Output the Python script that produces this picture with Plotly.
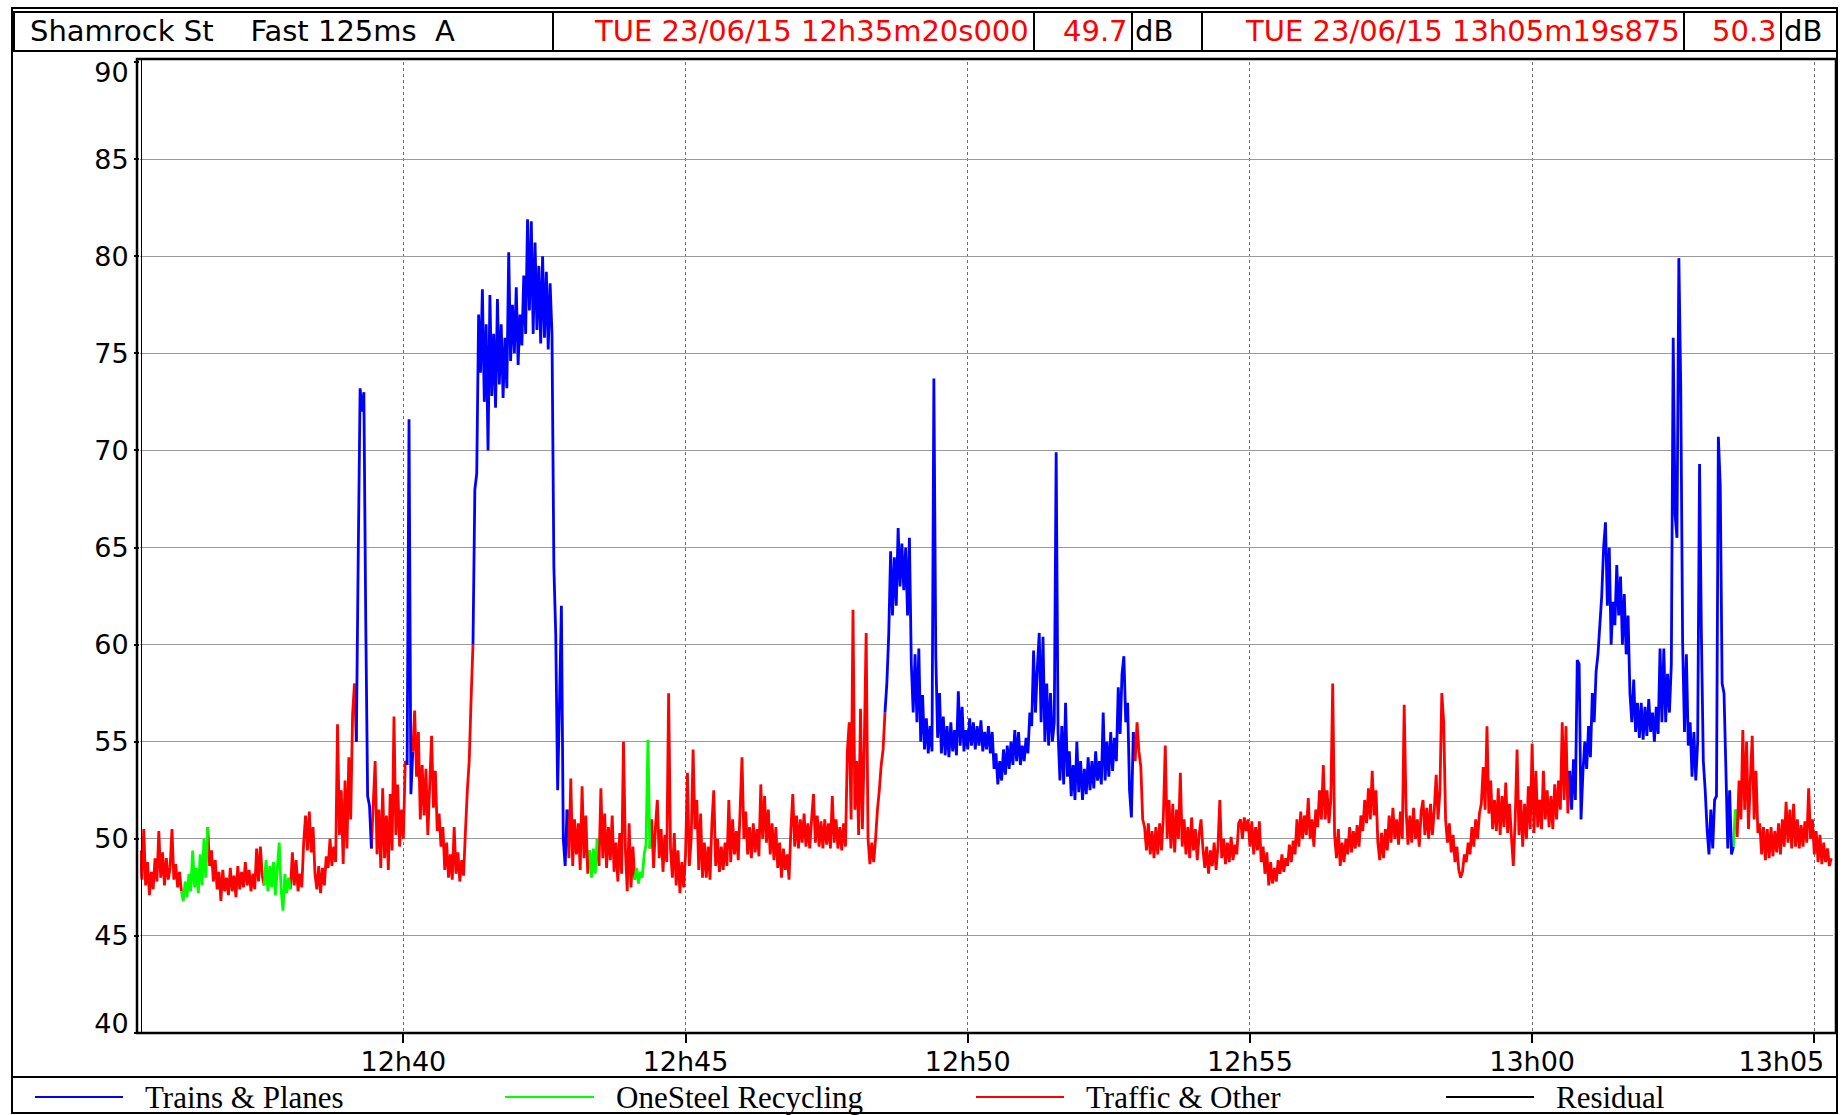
import datetime as dt
import plotly.graph_objects as go

# ---------------- data ----------------
START_TIME = "2015-06-23 12:35:20"
END_TIME = "2015-06-23 13:05:19.875"
SAMPLE_STEP_S = 2

# Fast 125 ms A-weighted level, one reading every 2 s, dB
LEVEL_DB = [
    49.4, 47.9, 50.5, 47.6, 48.8, 47.1, 48.3, 47.4, 49.0, 47.8, 50.4, 48.0, 49.3, 47.6, 49.0, 47.9, 48.5, 50.5, 47.9, 48.7, 47.5, 48.3, 47.3, 46.8, 47.8, 47.0, 48.2, 47.3, 49.4, 47.5,
    48.5, 47.2, 49.2, 47.6, 50.0, 48.0, 50.6, 48.6, 49.4, 47.8, 48.9, 47.4, 48.3, 46.8, 48.4, 47.3, 48.0, 47.1, 48.5, 47.3, 48.1, 47.0, 48.6, 47.4, 48.3, 47.5, 48.8, 47.6, 48.4, 47.3,
    48.2, 47.4, 49.5, 47.8, 49.6, 48.1, 47.6, 48.9, 47.3, 48.6, 47.5, 48.8, 47.1, 48.5, 49.8, 47.4, 46.3, 48.2, 47.2, 48.0, 47.4, 49.3, 47.6, 48.9, 47.3, 48.2, 47.5, 49.8, 51.2, 49.4,
    51.4, 49.3, 50.6, 48.2, 47.4, 48.6, 47.2, 48.5, 47.6, 49.1, 48.5, 50.0, 48.6, 49.6, 48.8, 55.9, 50.2, 52.5, 48.7, 53.0, 49.5, 54.2, 51.0, 56.4, 58.0, 55.0, 64.5, 73.2, 72.0, 73.0,
    61.2, 52.2, 51.7, 49.5, 51.8, 54.0, 49.2, 51.5, 48.5, 52.6, 49.0, 51.2, 48.4, 52.3, 49.4, 56.3, 50.2, 52.8, 49.6, 51.5, 50.0, 54.0, 53.8, 71.6, 52.3, 54.5, 56.6, 53.2, 55.5, 51.0,
    53.8, 51.2, 53.6, 50.2, 52.8, 55.3, 51.6, 53.5, 50.4, 51.3, 49.6, 50.6, 48.4, 49.8, 48.0, 49.2, 47.9, 50.6, 48.2, 49.3, 47.8, 48.9, 48.1, 50.4, 52.5, 54.0, 57.2, 60.0, 68.0, 68.8,
    77.0, 74.0, 78.3, 72.5, 76.5, 70.0, 78.0, 72.8, 76.0, 72.2, 77.8, 73.4, 76.5, 72.7, 75.8, 73.2, 80.2, 74.6, 77.5, 75.0, 78.4, 74.4, 77.0, 75.4, 79.0, 76.0, 81.9, 77.2, 81.8, 76.0,
    80.7, 76.2, 79.5, 75.5, 80.0, 75.8, 79.2, 75.2, 78.6, 76.0, 64.0, 60.5, 52.5, 57.0, 62.0, 50.0, 48.6, 51.5, 49.0, 53.1, 48.6, 51.0, 49.2, 50.8, 48.4, 52.7, 49.0, 51.2, 48.2, 49.4,
    48.0, 49.5, 48.2, 50.0, 48.6, 52.6, 49.0, 51.3, 48.5, 50.6, 48.9, 51.2, 48.3, 49.8, 47.8, 50.3, 48.2, 55.0, 49.5, 47.3, 50.8, 47.5, 49.6, 47.9, 48.5, 47.7, 48.3, 48.0, 49.2, 49.7,
    55.1, 49.5, 51.0, 48.5, 50.6, 52.0, 49.0, 50.5, 48.3, 50.2, 48.8, 57.5, 49.5, 48.0, 50.3, 47.6, 49.4, 47.2, 48.8, 47.5, 49.2, 53.4, 48.6, 50.0, 54.6, 50.5, 52.0, 48.4, 51.3, 48.0,
    49.8, 48.0, 49.6, 47.9, 50.8, 52.5, 48.6, 50.0, 48.3, 49.6, 48.4, 49.8, 48.6, 52.0, 48.8, 51.0, 49.2, 50.4, 48.9, 51.5, 54.2, 50.0, 51.4, 49.2, 50.6, 49.0, 50.8, 49.3, 50.5, 49.1,
    52.8, 50.0, 52.2, 49.8, 51.5, 49.2, 50.8, 48.9, 50.6, 48.5, 49.8, 48.0, 49.5, 48.4, 49.2, 47.9, 50.5, 52.3, 49.6, 51.2, 49.5, 51.0, 49.8, 51.3, 49.6, 50.8, 49.5, 51.0, 52.3, 49.8,
    51.2, 49.6, 50.9, 49.5, 51.0, 49.7, 50.8, 49.5, 52.2, 49.8, 51.0, 49.5, 50.6, 49.4, 50.8, 49.6, 54.5, 56.0, 51.0, 61.8, 51.5, 54.0, 50.2, 56.7, 50.5, 54.8, 60.6, 50.0, 48.7, 49.8,
    48.8, 50.0, 51.5, 52.5, 53.8, 54.6, 56.5, 58.0, 60.5, 64.8, 61.5, 64.5, 62.0, 66.0, 63.0, 65.2, 62.8, 65.0, 61.5, 65.5, 59.0, 56.5, 59.5, 56.0, 59.8, 55.0, 57.4, 54.6, 56.2, 54.4,
    55.8, 54.5, 73.7, 59.5, 55.2, 57.5, 54.4, 56.3, 54.3, 55.8, 54.2, 56.0, 54.5, 55.6, 54.3, 57.6, 54.8, 56.8, 54.5, 55.6, 54.6, 56.2, 54.8, 56.0, 54.6, 55.8, 54.8, 56.1, 54.5, 55.5,
    54.6, 55.8, 54.4, 55.5, 53.6, 54.4, 52.8, 54.0, 53.0, 54.6, 53.3, 54.8, 53.6, 55.0, 53.8, 55.6, 54.0, 55.5, 53.8, 54.8, 54.0, 55.2, 54.4, 56.5, 55.8, 59.7, 56.5, 58.8, 60.6, 56.0,
    60.4, 55.0, 58.0, 54.8, 57.5, 55.0, 56.0, 69.9, 55.5, 53.0, 55.8, 52.8, 57.0, 53.2, 54.5, 52.2, 53.8, 52.0, 55.0, 52.4, 54.0, 52.0, 53.6, 52.3, 54.2, 52.5, 54.0, 52.6, 54.5, 53.0,
    54.0, 52.8, 56.5, 53.0, 55.0, 53.2, 55.5, 53.5, 55.2, 54.0, 57.8, 55.4, 58.5, 59.4, 56.0, 57.0, 52.5, 51.1, 55.5, 54.0, 56.0, 54.5, 53.7, 51.0, 50.6, 49.4, 50.8, 49.2, 50.4, 49.0,
    50.6, 49.2, 50.8, 49.4, 51.2, 54.8, 50.0, 52.0, 49.5, 51.8, 49.3, 51.5, 50.0, 53.4, 49.6, 51.0, 49.2, 50.6, 49.0, 51.1, 49.4, 50.5, 48.9, 50.2, 51.0, 49.5, 48.5, 49.6, 48.2, 49.4,
    48.6, 49.8, 48.4, 49.6, 52.0, 49.0, 50.0, 48.7, 49.8, 48.8, 50.1, 48.9, 49.7, 49.2, 50.8, 51.0, 50.0, 51.1, 50.4, 51.0, 49.6, 50.9, 49.2, 50.6, 49.4, 50.9, 48.8, 49.6, 48.2, 49.3,
    47.6, 48.8, 47.7, 48.5, 47.8, 48.9, 48.2, 49.2, 48.3, 49.0, 48.6, 49.7, 48.8, 49.9, 49.2, 51.0, 49.6, 51.4, 50.0, 51.2, 50.2, 52.1, 50.0, 51.0, 49.6, 51.5, 50.6, 52.5, 51.0, 53.8,
    51.0, 52.5, 50.8, 52.0, 58.0, 50.2, 49.0, 50.5, 48.6, 49.8, 48.8, 50.0, 49.2, 50.6, 49.3, 50.4, 49.5, 50.7, 49.6, 51.2, 50.4, 52.0, 50.8, 52.6, 51.0, 53.5, 51.2, 52.5, 49.8, 48.9,
    50.3, 49.0, 50.5, 49.4, 51.2, 49.8, 51.6, 50.0, 51.0, 49.7, 51.4, 50.0, 56.9, 51.5, 49.7, 51.2, 49.8, 51.6, 50.0, 51.0, 49.6, 51.4, 52.0, 50.2, 51.6, 50.0, 51.8, 50.2, 51.5, 53.3,
    51.0, 52.5, 57.5, 56.0, 51.0, 49.8, 50.8, 49.3, 50.2, 48.8, 49.6, 48.4, 48.0, 48.3, 49.2, 48.8, 49.8, 49.2, 50.6, 49.6, 51.0, 50.0, 51.3, 51.8, 53.7, 51.5, 55.8, 51.3, 53.0, 50.5,
    52.0, 50.4, 52.6, 50.2, 52.2, 50.6, 52.9, 50.3, 51.8, 50.1, 48.6, 51.0, 54.6, 50.2, 52.0, 49.6, 51.8, 50.0, 52.7, 50.5, 54.9, 50.3, 53.5, 50.6, 52.0, 50.5, 53.5, 51.0, 52.5, 50.6,
    52.2, 50.5, 52.8, 51.0, 53.0, 51.5, 56.0, 52.0, 55.8, 51.3, 53.5, 51.5, 54.1, 52.0, 59.2, 59.0, 51.0, 53.4, 55.0, 53.6, 55.8, 54.2, 57.5, 56.0, 58.6, 59.5, 61.0, 62.5, 65.0, 66.3,
    62.0, 65.0, 60.0, 62.2, 61.0, 64.1, 61.5, 63.5, 60.0, 62.6, 59.5, 61.5, 57.5, 56.0, 58.2, 55.5, 57.0, 55.2, 57.0, 55.1, 56.8, 55.3, 57.2, 55.5, 56.5, 55.0, 56.8, 55.4, 59.8, 56.0,
    59.8, 56.0, 58.5, 56.5, 59.0, 75.8, 66.7, 65.5, 79.9, 73.3, 60.1, 55.5, 59.5, 54.8, 56.0, 53.2, 55.5, 53.0, 55.0, 69.3, 60.4, 54.0, 52.5, 50.5, 49.2, 51.5, 49.5, 52.0, 52.2, 70.7,
    68.2, 58.0, 57.5, 53.6, 49.5, 52.5, 49.2, 49.6, 51.5, 50.1, 53.0, 51.0, 55.6, 51.5, 55.0, 50.5, 53.0, 55.3, 51.0, 53.5, 50.3, 50.8, 49.2, 50.6, 48.9, 50.5, 49.0, 50.6, 49.1, 50.4,
    49.3, 50.8, 49.2, 51.0, 49.6, 51.9, 49.8, 51.5, 49.5, 51.8, 49.6, 51.0, 49.5, 50.7, 49.6, 50.9, 49.8, 52.6, 50.0, 51.0, 49.2, 50.4, 48.8, 50.2, 48.7, 49.8, 48.8, 49.5, 48.6, 49.0,
]

# noise source identified for each run (start of each run, seconds after START_TIME)
SOURCE_CHANGE_S = [0, 44, 72, 132, 160, 230, 246, 284, 290, 354, 454, 478, 486,
                   526, 542, 792, 1056, 1520, 1694, 1696]
SOURCE_NAME = ["Traffic & Other", "OneSteel Recycling", "Traffic & Other",
               "OneSteel Recycling", "Traffic & Other", "Trains & Planes",
               "Traffic & Other", "Trains & Planes", "Traffic & Other",
               "Trains & Planes", "Traffic & Other", "OneSteel Recycling",
               "Traffic & Other", "OneSteel Recycling", "Traffic & Other",
               "Trains & Planes", "Traffic & Other", "Trains & Planes",
               "OneSteel Recycling", "Traffic & Other"]

LEGEND_NAMES = ["Trains & Planes", "OneSteel Recycling", "Traffic & Other", "Residual"]
LEGEND_COLORS = ["#0000ff", "#00ff00", "#ff0000", "#000000"]

Y_TICKS = [40, 45, 50, 55, 60, 65, 70, 75, 80, 85, 90]
Y_TICK_LABELS = ["40", "45", "50", "55", "60", "65", "70", "75", "80", "85", "90"]
X_TICK_TIMES = ["2015-06-23 12:40:00", "2015-06-23 12:45:00", "2015-06-23 12:50:00",
                "2015-06-23 12:55:00", "2015-06-23 13:00:00", "2015-06-23 13:05:00"]
X_TICK_LABELS = ["12h40", "12h45", "12h50", "12h55", "13h00", "13h05"]

HEADER_TITLE = "Shamrock St\u00a0\u00a0\u00a0\u00a0Fast 125ms\u00a0\u00a0A"
CURSOR1_TIME = "TUE 23/06/15 12h35m20s000"
CURSOR1_LEVEL = "49.7"
CURSOR2_TIME = "TUE 23/06/15 13h05m19s875"
CURSOR2_LEVEL = "50.3"
UNIT = "dB"

# ---------------- build ----------------
assert len(LEVEL_DB) == 900
t0 = dt.datetime.strptime(START_TIME, "%Y-%m-%d %H:%M:%S")
times = [(t0 + dt.timedelta(seconds=k * SAMPLE_STEP_S)).strftime("%Y-%m-%d %H:%M:%S")
         for k in range(len(LEVEL_DB))]
secs = [k * SAMPLE_STEP_S for k in range(len(LEVEL_DB))]


def source_of(s):
    name = SOURCE_NAME[0]
    for start, nm in zip(SOURCE_CHANGE_S, SOURCE_NAME):
        if s >= start:
            name = nm
    return name


labels = [source_of(s) for s in secs]
series = {n: ([], []) for n in LEGEND_NAMES}
i = 0
n = len(labels)
while i < n:
    j = i
    while j + 1 < n and labels[j + 1] == labels[i]:
        j += 1
    xs, ys = series[labels[i]]
    if xs:
        xs.append(None)
        ys.append(None)
    stop = min(j + 1, n - 1)
    xs.extend(times[i:stop + 1])
    ys.extend(LEVEL_DB[i:stop + 1])
    i = j + 1

fig = go.Figure()
for name in ["Traffic & Other", "OneSteel Recycling", "Trains & Planes", "Residual"]:
    xs, ys = series[name]
    if not xs:
        continue
    color = LEGEND_COLORS[LEGEND_NAMES.index(name)]
    fig.add_trace(go.Scatter(x=xs, y=ys, mode="lines", name=name,
                             line=dict(color=color, width=2.8, simplify=False),
                             hoverinfo="skip", showlegend=False))

W, H = 1843, 1115
L, R, T, B = 140, 1833, 62, 1033
SEC_PER_PX = 1799.875 / (R - L)
DB_PER_PX = 50.0 / (B - T)


def px(x):
    return (x - L) / (R - L)


def py(y):
    return (B - y) / (B - T)


shapes = []


def rect(x0, y0, x1, y1, w=2, color="black"):
    shapes.append(dict(type="rect", xref="paper", yref="paper", x0=px(x0), x1=px(x1),
                       y0=py(y1), y1=py(y0), line=dict(color=color, width=w),
                       fillcolor="rgba(0,0,0,0)", layer="above"))


def line(x0, y0, x1, y1, w=2, color="black"):
    shapes.append(dict(type="line", xref="paper", yref="paper", x0=px(x0), x1=px(x1),
                       y0=py(y0), y1=py(y1), line=dict(color=color, width=w), layer="above"))


# outer frame
rect(12, 8, 1837, 1113, w=2)
# header row and its boxes
rect(14, 12, 1837, 51, w=2)
for xd in [553, 1034, 1132, 1202, 1684, 1781]:
    line(xd, 12, xd, 51, w=2)
# plot frame (double left edge)
rect(137, 59, 1836, 1033, w=2.5)
line(141.5, 59, 141.5, 1033, w=1)
# legend box
rect(12, 1077, 1837, 1113, w=2)
legend_line_x = [(35, 123), (505, 594), (976, 1064), (1446, 1534)]
legend_text_x = [143, 614, 1084, 1554]
for (a, b), col in zip(legend_line_x, LEGEND_COLORS):
    line(a, 1097, b, 1097, w=2.2, color=col)

annotations = []


def text(x, y, s, color="black", anchor="left", size=28, family="DejaVu Sans"):
    annotations.append(dict(x=px(x), y=py(y), xref="paper", yref="paper", text=s,
                            showarrow=False, xanchor=anchor, yanchor="middle",
                            font=dict(family=family, size=size, color=color)))


text(28, 31, HEADER_TITLE, size=29)
text(1031, 31, CURSOR1_TIME, color="#ff0000", anchor="right", size=29)
text(1130, 31, CURSOR1_LEVEL, color="#ff0000", anchor="right", size=29)
text(1133, 31, UNIT, size=29)
text(1682, 31, CURSOR2_TIME, color="#ff0000", anchor="right", size=29)
text(1779, 31, CURSOR2_LEVEL, color="#ff0000", anchor="right", size=29)
text(1782, 31, UNIT, size=29)
for nm, xt in zip(LEGEND_NAMES, legend_text_x):
    text(xt, 1097, nm, size=31, family="Liberation Serif")

# Edge labels are nudged inward so they stay inside the frame, as in the original:
# main axes carry the ticks/grid, overlay axes carry the nudged edge labels.
x_main_text = X_TICK_LABELS[:-1] + [""]
last_tick = dt.datetime.strptime(X_TICK_TIMES[-1], "%Y-%m-%d %H:%M:%S")
x_edge_pos = (last_tick - dt.timedelta(seconds=32 * SEC_PER_PX)).strftime("%Y-%m-%d %H:%M:%S")
y_main_text = [""] + Y_TICK_LABELS[1:-1] + [""]
y_edge_pos = [Y_TICKS[0] + 9 * DB_PER_PX, Y_TICKS[-1] - 11 * DB_PER_PX]

tick_font = dict(family="DejaVu Sans", size=27, color="black")
fig.update_layout(
    width=W, height=H,
    margin=dict(l=L, r=W - R, t=T, b=H - B, pad=0),
    paper_bgcolor="white", plot_bgcolor="white", showlegend=False,
    shapes=shapes, annotations=annotations,
    xaxis=dict(type="date", range=[START_TIME, END_TIME], tickvals=X_TICK_TIMES,
               ticktext=x_main_text, showgrid=True, gridcolor="#6e6e6e",
               griddash="dot", gridwidth=1, ticks="outside", ticklen=9,
               tickcolor="black", tickwidth=1.5, showline=False, zeroline=False,
               automargin=False, ticklabelstandoff=-4, tickfont=tick_font),
    xaxis2=dict(type="date", range=[START_TIME, END_TIME], overlaying="x", side="bottom",
                anchor="y", tickvals=[x_edge_pos], ticktext=[X_TICK_LABELS[-1]],
                showgrid=False, ticks="outside", ticklen=9, tickcolor="rgba(0,0,0,0)",
                showline=False, zeroline=False, automargin=False,
                ticklabelstandoff=-4, tickfont=tick_font),
    yaxis=dict(range=[40, 90], tickvals=Y_TICKS, ticktext=y_main_text, showgrid=True,
               gridcolor="#9a9a9a", gridwidth=1.2, ticks="outside", ticklen=5,
               tickcolor="black", tickwidth=1.5, showline=False, zeroline=False,
               automargin=False, tickfont=tick_font),
    yaxis2=dict(range=[40, 90], overlaying="y", side="left", anchor="x",
                tickvals=y_edge_pos, ticktext=[Y_TICK_LABELS[0], Y_TICK_LABELS[-1]],
                showgrid=False, ticks="outside", ticklen=5, tickcolor="rgba(0,0,0,0)",
                showline=False, zeroline=False, automargin=False, tickfont=tick_font),
)
# invisible carrier trace so the overlay axes are drawn
fig.add_trace(go.Scatter(x=[START_TIME], y=[None], xaxis="x2", yaxis="y2",
                         mode="lines", showlegend=False, hoverinfo="skip"))

fig.write_html("out.html", config={"displayModeBar": False},
               post_script="document.body.style.margin='0';document.body.style.overflow='hidden';")
